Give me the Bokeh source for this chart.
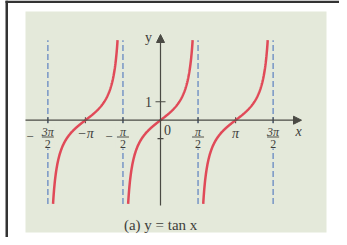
import numpy as np
from bokeh.plotting import figure
from bokeh.models import Range1d, Arrow, NormalHead
from bokeh.core.properties import value
from bokeh.embed import file_html
from bokeh.resources import INLINE

# ---- data ----
branch_centers = [-np.pi, 0.0, np.pi]
asymptotes = [-3 * np.pi / 2, -np.pi / 2, np.pi / 2, 3 * np.pi / 2]
curve_y_min, curve_y_max = -4.55, 4.35
x_tick_pos = [-3 * np.pi / 2, -np.pi, -np.pi / 2, np.pi / 2, np.pi, 3 * np.pi / 2]
frac_ticks = [-3 * np.pi / 2, -np.pi / 2, np.pi / 2, 3 * np.pi / 2]
frac_num = ["3π", "π", "π", "3π"]
frac_den = ["2", "2", "2", "2"]
neg_ticks = [-3 * np.pi / 2, -np.pi / 2]
plain_ticks = [-np.pi, np.pi]
plain_labels = ["−π", "π"]
y_tick_pos = [1, -1]
y_tick_labels = ["1", ""]
caption = "(a)  y = tan x"

# ---- layout helpers (page pixel -> data) ----
W, H = 339, 237
SX, SY = 23.9, 18.4
OX, OY = 168 - 8, 127.7 - 8


def dx(px):
    return (px - 8 - OX) / SX


def dy(py):
    return (OY - (py - 8)) / SY


FONT = value("Liberation Serif")
TXT = "#3e3e3a"
AX = "#4a4a44"
BG = "#e4e9da"

p = figure(width=W, height=H, x_range=Range1d(dx(8), dx(8 + W)), y_range=Range1d(dy(8 + H), dy(8)),
           output_backend="svg", toolbar_location=None, min_border=0,
           x_axis_type=None, y_axis_type=None, background_fill_color="white",
           border_fill_color="white", outline_line_color=None)
p.grid.visible = False

# frame of the scan
p.quad(left=[dx(13)], right=[dx(348)], top=[dy(8)], bottom=[dy(10.5)], fill_color="#333333", line_color=None)
p.quad(left=[dx(13)], right=[dx(15.5)], top=[dy(8)], bottom=[dy(246)], fill_color="#333333", line_color=None)
p.quad(left=[dx(33)], right=[dx(334)], top=[dy(19)], bottom=[dy(240)], fill_color=BG, line_color=None)

# asymptotes
p.segment(x0=asymptotes, y0=[curve_y_min] * len(asymptotes), x1=asymptotes, y1=[curve_y_max] * len(asymptotes),
          line_color="#6f8fc4", line_width=1.4, line_dash="6 3")
# gaps in the dashes where the fraction labels sit
mw = 7 / SX
p.quad(left=[v - mw for v in frac_ticks], right=[v + mw for v in frac_ticks],
       top=[dy(133)] * 4, bottom=[dy(156)] * 4, fill_color=BG, line_color=None)

# axes
p.add_layout(Arrow(end=NormalHead(size=8, fill_color=AX, line_color=AX), x_start=dx(33), y_start=0,
                   x_end=dx(309), y_end=0, line_color=AX, line_width=1.2))
p.add_layout(Arrow(end=NormalHead(size=8, fill_color=AX, line_color=AX), x_start=0, y_start=dy(213),
                   x_end=0, y_end=dy(42), line_color=AX, line_width=1.2))

# ticks
t = 3 / SY
p.segment(x0=x_tick_pos, y0=[-t] * len(x_tick_pos), x1=x_tick_pos, y1=[t] * len(x_tick_pos),
          line_color=AX, line_width=1.1)
tw = 5 / SX
p.segment(x0=[-tw, -3 / SX], y0=y_tick_pos, x1=[tw, 3 / SX], y1=y_tick_pos, line_color=AX, line_width=1.1)

# curves y = tan x
for c in branch_centers:
    u = np.linspace(np.arctan(curve_y_min), np.arctan(curve_y_max), 300)
    p.line(c + u, np.tan(u), line_color="#e04a58", line_width=2.5)

# tick labels: fractions
yn, yb, yd_ = dy(139), dy(144.5), dy(151)
p.text(x=frac_ticks, y=[yn] * 4, text=frac_num, text_font=FONT, text_font_size="12px",
       text_font_style="italic", text_align="center", text_baseline="middle", text_color=TXT)
p.text(x=frac_ticks, y=[yd_] * 4, text=frac_den, text_font=FONT, text_font_size="12px",
       text_align="center", text_baseline="middle", text_color=TXT)
hw = 6 / SX
p.segment(x0=[v - hw for v in frac_ticks], y0=[yb] * 4, x1=[v + hw for v in frac_ticks], y1=[yb] * 4,
          line_color=TXT, line_width=0.9)
neg_off = [18 / SX, 14 / SX]
p.text(x=[v - o for v, o in zip(neg_ticks, neg_off)], y=[dy(144.5)] * 2, text=["−"] * 2, text_font=FONT,
       text_font_size="13px", text_align="center", text_baseline="middle", text_color=TXT)

# plain labels
p.text(x=plain_ticks, y=[dy(140.5)] * 2, text=plain_labels, text_font=FONT, text_font_size="14px",
       text_font_style="italic", text_align="center", text_baseline="middle", text_color=TXT)
p.text(x=[dx(175)], y=[dy(137.5)], text=["0"], text_font=FONT, text_font_size="14px",
       text_align="center", text_baseline="middle", text_color=TXT)
p.text(x=[-12 / SX], y=y_tick_pos, text=y_tick_labels, text_font=FONT, text_font_size="14px",
       text_align="center", text_baseline="middle", text_color=TXT)
p.text(x=[dx(306)], y=[dy(138.5)], text=["x"], text_font=FONT, text_font_size="14px",
       text_font_style="italic", text_align="center", text_baseline="middle", text_color=TXT)
p.text(x=[dx(156)], y=[dy(45)], text=["y"], text_font=FONT, text_font_size="14px",
       text_align="center", text_baseline="middle", text_color=TXT)

# caption
p.text(x=[dx(170)], y=[dy(232)], text=[caption], text_font=FONT, text_font_size="15px",
       text_align="center", text_baseline="middle", text_color=TXT)

open("out.html", "w").write(file_html(p, INLINE))
